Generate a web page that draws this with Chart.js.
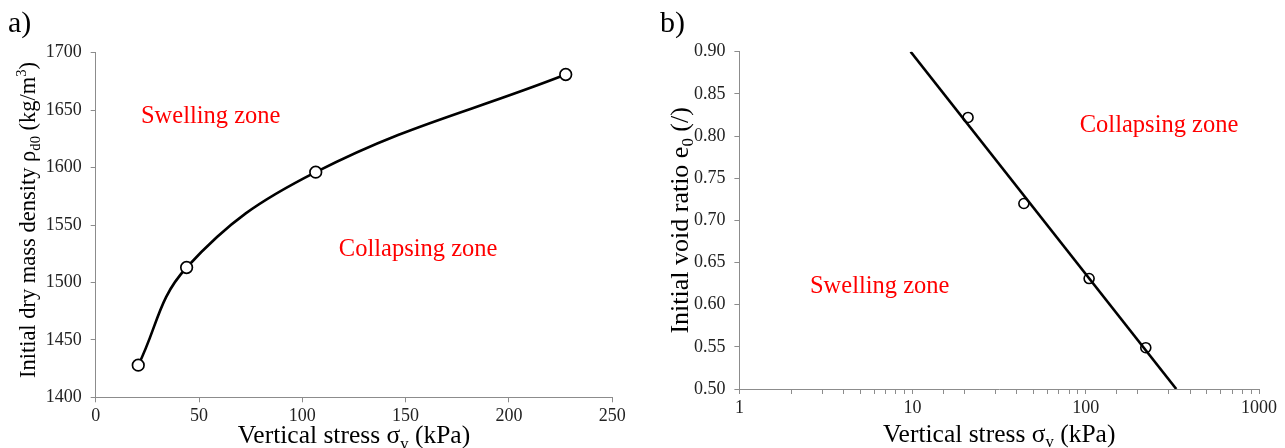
<!DOCTYPE html>
<html>
<head>
<meta charset="utf-8">
<script src="https://cdn.jsdelivr.net/npm/chart.js@4.4.1/dist/chart.umd.min.js"></script>
<style>
  html, body { margin: 0; padding: 0; background: #fff; }
  #wrap { position: relative; width: 1285px; height: 448px; }
  #cajaA { position: absolute; left: 0; top: 0; }
  #cajaB { position: absolute; left: 640px; top: 0; }
</style>
</head>
<body>
<div id="wrap">
  <canvas id="cajaA" width="640" height="448"></canvas>
  <canvas id="cajaB" width="645" height="448"></canvas>
</div>
<script>
// a) densidad seca inicial vs esfuerzo vertical
const esfuerzoA = [20.6, 44.0, 106.5, 227.5];
const densidadA = [1428, 1513, 1596, 1681];

// b) indice de vacios inicial vs esfuerzo vertical (eje x logaritmico)
const esfuerzoB = [20.9, 43.9, 104.5, 222];
const vaciosB = [0.822, 0.720, 0.631, 0.549];
const rectaEsfuerzoB = [9.74, 333];
const rectaVaciosB = [0.90, 0.50];

const FUENTE = '"Liberation Serif", "Times New Roman", serif';
const GRIS = '#8c8c8c';

function dibujarTexto(ctx, partes, size) {
    // texto centrado con subindices / superindices
    let total = 0;
    const items = partes.map(p => {
        const fs = (p.sub || p.sup) ? size * 0.65 : size;
        ctx.font = fs + 'px ' + FUENTE;
        const w = ctx.measureText(p.t).width;
        total += w;
        return { t: p.t, fs: fs, w: w, dy: p.sub ? size * 0.22 : (p.sup ? -size * 0.38 : 0) };
    });
    let x = -total / 2;
    items.forEach(it => {
        ctx.font = it.fs + 'px ' + FUENTE;
        ctx.fillText(it.t, x, it.dy);
        x += it.w;
    });
}

const decor = {
    id: 'decor',
    afterDraw(chart, args, o) {
        const ctx = chart.ctx;
        const a = chart.chartArea;
        ctx.save();
        ctx.fillStyle = '#000';
        ctx.textAlign = 'left';
        ctx.textBaseline = 'alphabetic';

        ctx.font = o.panelSize + 'px ' + FUENTE;
        ctx.fillText(o.panel, o.panelX, o.panelY);

        ctx.save();
        ctx.translate((a.left + a.right) / 2, o.xTituloY);
        dibujarTexto(ctx, o.xTitulo, o.xTituloSize);
        ctx.restore();

        ctx.save();
        ctx.translate(o.yTituloX, (a.top + a.bottom) / 2 + o.yTituloDesp);
        ctx.rotate(-Math.PI / 2);
        dibujarTexto(ctx, o.yTitulo, o.yTituloSize);
        ctx.restore();

        ctx.fillStyle = '#ff0000';
        ctx.font = o.zonaSize + 'px ' + FUENTE;
        o.zonas.forEach(z => {
            ctx.fillText(z.texto, chart.scales.x.getPixelForValue(z.x), chart.scales.y.getPixelForValue(z.y));
        });
        ctx.restore();
    }
};

const tituloX = [{ t: 'Vertical stress σ' }, { t: 'v', sub: true }, { t: ' (kPa)' }];

function ejeComun(extra) {
    return Object.assign({
        grid: { drawOnChartArea: false, tickLength: 5, color: GRIS, tickColor: GRIS },
        border: { color: GRIS, width: 1 }
    }, extra);
}

new Chart(document.getElementById('cajaA'), {
    type: 'line',
    data: {
        datasets: [{
            data: esfuerzoA.map((x, i) => ({ x: x, y: densidadA[i] })),
            borderColor: '#000',
            borderWidth: 2.6,
            tension: 0.4,
            pointRadius: 5.8,
            pointBackgroundColor: '#fff',
            pointBorderColor: '#000',
            pointBorderWidth: 1.7
        }]
    },
    options: {
        responsive: false,
        animation: false,
        devicePixelRatio: 1,
        layout: { padding: { left: 0, top: 52.7, right: 27.8, bottom: 0 } },
        plugins: {
            legend: { display: false },
            tooltip: { enabled: false },
            decor: {
                panel: 'a)', panelX: 8, panelY: 32, panelSize: 30,
                xTitulo: tituloX, xTituloY: 443, xTituloSize: 25.5,
                yTitulo: [{ t: 'Initial dry mass density ρ' }, { t: 'd0', sub: true }, { t: ' (kg/m' }, { t: '3', sup: true }, { t: ')' }],
                yTituloX: 35, yTituloSize: 22.5, yTituloDesp: -5,
                zonaSize: 24.5,
                zonas: [
                    { texto: 'Swelling zone', x: 21.9, y: 1638.7 },
                    { texto: 'Collapsing zone', x: 117.7, y: 1523.1 }
                ]
            }
        },
        scales: {
            x: ejeComun({
                type: 'linear', min: 0, max: 250,
                ticks: { stepSize: 50, color: '#222', font: { family: FUENTE, size: 18 }, padding: 3, maxRotation: 0, callback: v => String(v) },
                afterFit: s => { s.height = 448 - 397.3; }
            }),
            y: ejeComun({
                type: 'linear', min: 1400, max: 1700,
                ticks: { stepSize: 50, color: '#222', font: { family: FUENTE, size: 18 }, padding: 9, callback: v => String(v) },
                afterFit: s => { s.width = 95.7; }
            })
        }
    },
    plugins: [decor]
});

new Chart(document.getElementById('cajaB'), {
    type: 'scatter',
    data: {
        datasets: [{
            data: esfuerzoB.map((x, i) => ({ x: x, y: vaciosB[i] })),
            showLine: false,
            pointRadius: 5,
            pointBackgroundColor: 'rgba(0,0,0,0)',
            pointBorderColor: '#000',
            pointBorderWidth: 1.6
        }, {
            data: rectaEsfuerzoB.map((x, i) => ({ x: x, y: rectaVaciosB[i] })),
            showLine: true,
            borderColor: '#000',
            borderWidth: 2.6,
            pointRadius: 0
        }]
    },
    options: {
        responsive: false,
        animation: false,
        devicePixelRatio: 1,
        layout: { padding: { left: 0, top: 51.7, right: 26, bottom: 0 } },
        plugins: {
            legend: { display: false },
            tooltip: { enabled: false },
            decor: {
                panel: 'b)', panelX: 20, panelY: 32, panelSize: 30,
                xTitulo: tituloX, xTituloY: 441.5, xTituloSize: 25.5,
                yTitulo: [{ t: 'Initial void ratio e' }, { t: '0', sub: true }, { t: ' (/)' }],
                yTituloX: 47.5, yTituloSize: 26, yTituloDesp: 0,
                zonaSize: 24.5,
                zonas: [
                    { texto: 'Collapsing zone', x: 92.3, y: 0.805 },
                    { texto: 'Swelling zone', x: 2.555, y: 0.6136 }
                ]
            }
        },
        scales: {
            x: ejeComun({
                type: 'logarithmic', min: 1, max: 1000,
                ticks: {
                    autoSkip: false, maxRotation: 0, color: '#222', padding: 3,
                    font: { family: FUENTE, size: 18 },
                    callback: v => {
                        const l = Math.log10(v);
                        return Math.abs(l - Math.round(l)) < 1e-9 ? String(v) : '';
                    }
                },
                afterFit: s => { s.height = 448 - 389; }
            }),
            y: ejeComun({
                type: 'linear', min: 0.5, max: 0.9,
                ticks: { stepSize: 0.05, color: '#222', font: { family: FUENTE, size: 18 }, padding: 9, callback: v => v.toFixed(2) },
                afterFit: s => { s.width = 99.4; }
            })
        }
    },
    plugins: [decor]
});
</script>
</body>
</html>
